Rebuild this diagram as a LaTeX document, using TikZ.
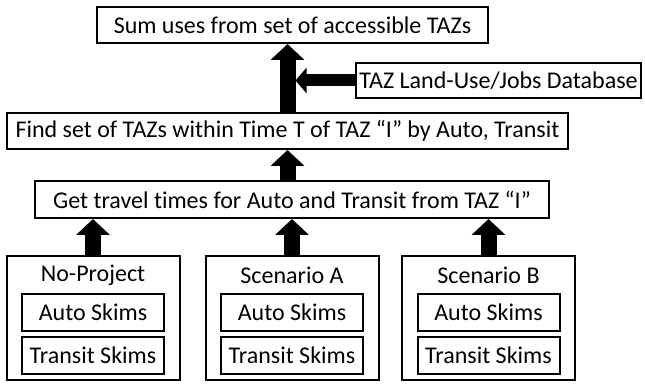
\documentclass[tikz,border=0pt]{standalone}
\usepackage{fontspec}
\setmainfont{Carlito}[Ligatures=NoCommon]
\usetikzlibrary{arrows.meta}
\tikzset{
    % box with black frame
    stepbox/.style={
           draw=black,
           line width=2pt,
           inner sep=0pt,
           align=center,
           font=\fontsize{24}{27}\selectfont},
    % block arrow
    bigarrow/.style={
           line width=16pt,
           -{Triangle[width=33pt,length=16pt]}},
    sidearrow/.style={
           line width=12pt,
           -{Triangle[width=25pt,length=11pt]}}
}

\begin{document}
\begin{tikzpicture}[x=1pt,y=1pt]
\useasboundingbox (0,0) rectangle (645,383);
%Nodes
\node[stepbox, minimum width=391pt, minimum height=36pt](sum) at (292.5,358){Sum uses from set of accessible TAZs};
\node[stepbox, minimum width=285pt, minimum height=35pt](dbase) at (498.5,302.5){TAZ Land-Use/Jobs Database};
\node[stepbox, minimum width=561pt, minimum height=36pt](find) at (287.5,252){Find set of TAZs within Time T of TAZ “I” by Auto, Transit};
\node[stepbox, minimum width=514pt, minimum height=37pt](get) at (292,183.5){Get travel times for Auto and Transit from TAZ “I”};

\foreach \name/\x/\title in {noproj/93/No-Project, scena/292/Scenario A, scenb/488.5/Scenario B}{
  \node[stepbox, minimum width=173pt, minimum height=124pt](\name) at (\x,65){};
  \node[font=\fontsize{24}{27}\selectfont](\name-title) at (\x,108){\title};
  \node[stepbox, minimum width=142pt, minimum height=37pt](\name-auto) at (\x,70.5){Auto Skims};
  \node[stepbox, minimum width=142pt, minimum height=37pt](\name-transit) at (\x,27.5){Transit Skims};
  \draw[bigarrow] (\name.north) -- (\name.north |- get.south);
}

\coordinate (join) at ([xshift=8pt]find.north |- dbase.west);
\draw[bigarrow] (find.north) -- (find.north |- sum.south);
\draw[bigarrow] (get.north -| find.north) -- (find.south);
\draw[sidearrow] (dbase.west) -- (join);

\end{tikzpicture}
\end{document}
